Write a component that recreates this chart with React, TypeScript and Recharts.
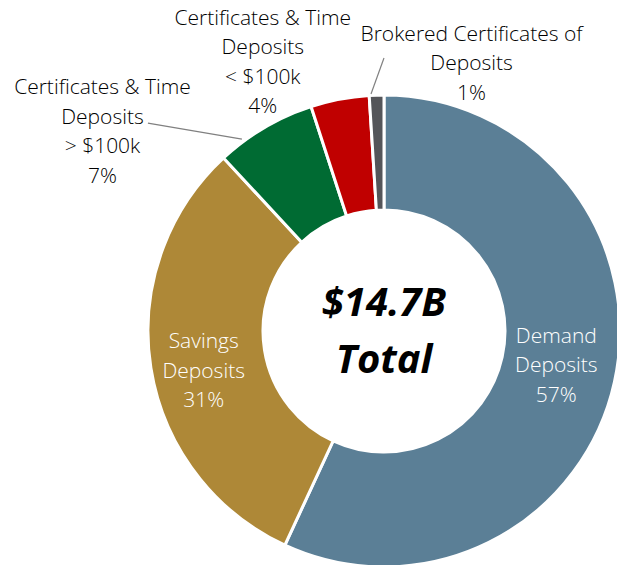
import React from 'react';
import { PieChart, Pie, Cell } from 'recharts';

// deposit mix, share of total (%)
const categories = [
  'Demand Deposits',
  'Savings Deposits',
  'Certificates & Time Deposits > $100k',
  'Certificates & Time Deposits < $100k',
  'Brokered Certificates of Deposits',
];
const shares = [56.9, 31.2, 6.9, 4.0, 1.0];
const shareLabels = ['57%', '31%', '7%', '4%', '1%'];
const labelLines = [
  ['Demand', 'Deposits'],
  ['Savings', 'Deposits'],
  ['Certificates & Time', 'Deposits', '> $100k'],
  ['Certificates & Time', 'Deposits', '< $100k'],
  ['Brokered Certificates of', 'Deposits'],
];
const totalText = ['$14.7B', 'Total'];

const colors = ['#5B7F96', '#AE8837', '#006B33', '#C00000', '#545559'];

// label placement: inside (mid ring) or outside (outer edge + offset)
const labelStyle = [
  { inside: true, dx: -2, dy: -5, fill: '#FFFFFF' },
  { inside: true, dx: -4, dy: 11, fill: '#FFFFFF' },
  { inside: false, dx: -162, dy: 3, fill: '#000000', line: [-116.6, -4.4, -22.6, 11.6] },
  { inside: false, dx: -77, dy: -38, fill: '#000000' },
  { inside: false, dx: 95, dy: -33, fill: '#000000', line: [-5.6, -1.1, 7.4, -37.1] },
];

const data = categories.map((name, i) => ({
  name,
  value: shares[i],
  pct: shareLabels[i],
  lines: labelLines[i],
}));

const PIE_CX = 384;
const PIE_CY = 331;
const RAD = Math.PI / 180;
const FONT = '"Open Sans", sans-serif';
const LINE_H = 29.5;

const renderLabel = (props: any) => {
  const { cx, cy, midAngle, innerRadius, outerRadius, index } = props;
  const st = labelStyle[index];
  const r = st.inside ? (innerRadius + outerRadius) / 2 : outerRadius;
  const ax = cx + r * Math.cos(-midAngle * RAD);
  const ay = cy + r * Math.sin(-midAngle * RAD);
  const x = ax + st.dx;
  const y = ay + st.dy;
  const rows = [...data[index].lines, data[index].pct];
  const top = y - ((rows.length - 1) * LINE_H) / 2;
  return (
    <g key={`lbl-${index}`}>
      {st.line && (
        <line
          x1={ax + st.line[0]}
          y1={ay + st.line[1]}
          x2={ax + st.line[2]}
          y2={ay + st.line[3]}
          stroke="#808080"
          strokeWidth={1.2}
        />
      )}
      <text
        x={x}
        y={top}
        textAnchor="middle"
        fill={st.fill}
        style={{ fontFamily: FONT, fontSize: 21, fontWeight: 300 }}
      >
        {rows.map((t, i) => (
          <tspan key={i} x={x} y={top + i * LINE_H} dominantBaseline="central">
            {t}
          </tspan>
        ))}
      </text>
      {index === 0 && (
        <text textAnchor="middle" fill="#000" style={{ fontFamily: FONT, fontSize: 40, fontWeight: 700, fontStyle: 'italic' }}>
          <tspan x={cx} y={cy - 31} dominantBaseline="central">{totalText[0]}</tspan>
          <tspan x={cx} y={cy + 26} dominantBaseline="central">{totalText[1]}</tspan>
        </text>
      )}
    </g>
  );
};

export default function App() {
  return (
    <div style={{ width: 617, height: 565, background: '#fff' }}>
      <style>{'body{margin:0}'}</style>
      <PieChart width={617} height={565} margin={{ top: 0, right: 0, bottom: 0, left: 0 }}>
        <Pie
          data={data}
          dataKey="value"
          cx={PIE_CX}
          cy={PIE_CY}
          innerRadius={121}
          outerRadius={236}
          startAngle={90}
          endAngle={-270}
          stroke="#FFFFFF"
          strokeWidth={3}
          label={renderLabel}
          labelLine={false}
          isAnimationActive={false}
        >
          {data.map((d, i) => (
            <Cell key={d.name} fill={colors[i]} />
          ))}
        </Pie>
      </PieChart>
    </div>
  );
}
